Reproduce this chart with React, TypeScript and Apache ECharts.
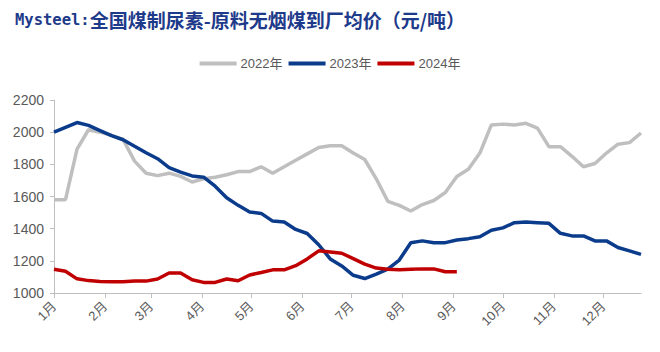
import React, { useEffect, useRef } from "react";
import * as echarts from "echarts";

const seriesNames = ["2022年", "2023年", "2024年"];
const monthLabels = ["1月", "2月", "3月", "4月", "5月", "6月", "7月", "8月", "9月", "10月", "11月", "12月"];
const monthStartDays = [0, 31, 59, 90, 120, 151, 181, 212, 243, 273, 304, 334];
const yTicks = [1000, 1200, 1400, 1600, 1800, 2000, 2200];

// weekly prices (元/吨), one point per week starting Jan 1
const price2022 = [
  1580, 1580, 1895, 2015, 2000, 1980, 1955, 1820, 1745, 1730,
  1745, 1725, 1690, 1710, 1720, 1735, 1755, 1755, 1785, 1745,
  1785, 1825, 1865, 1905, 1915, 1915, 1870, 1830, 1710, 1570,
  1545, 1510, 1550, 1575, 1625, 1725, 1770, 1870, 2045, 2050,
  2045, 2055, 2025, 1910, 1910, 1850, 1785, 1805, 1870, 1925,
  1935, 1995,
];
const price2023 = [
  2000, 2030, 2060, 2042, 2010, 1978, 1953, 1912, 1872, 1835,
  1780, 1752, 1728, 1720, 1664, 1592, 1545, 1503, 1495, 1447,
  1441, 1395, 1370, 1300, 1212, 1168, 1110, 1090, 1118, 1148,
  1205, 1313, 1324, 1313, 1313, 1330, 1338, 1350, 1390, 1405,
  1437, 1441, 1437, 1433, 1371, 1355, 1355, 1324, 1324, 1283,
  1262, 1240,
];
const price2024 = [
  1148, 1135, 1088, 1077, 1072, 1070, 1070, 1075, 1074, 1087,
  1124, 1124, 1082, 1066, 1066, 1087, 1076, 1112, 1127, 1144,
  1144, 1170, 1212, 1262, 1255, 1247, 1214, 1180, 1155, 1148,
  1144, 1148, 1150, 1150, 1132, 1132,
];

const colors = ["#BFBFBF", "#0B3C8C", "#C00000"];

export default function App() {
  const ref = useRef<HTMLDivElement>(null);

  useEffect(() => {
    if (!ref.current) return;
    const chart = echarts.init(ref.current, undefined, { renderer: "svg" });
    const toXY = (arr: number[]) => arr.map((v, i) => [i * 7, v]);
    const all = [price2022, price2023, price2024];
    chart.setOption({
      animation: false,
      backgroundColor: "#ffffff",
      title: {
        left: 10,
        top: 5,
        text: "{a|Mysteel:}{b|全国煤制尿素-原料无烟煤到厂均价（元/吨）}",
        textStyle: {
          rich: {
            a: {
              fontFamily: "'DejaVu Sans Mono', 'Liberation Mono', monospace",
              fontWeight: "bold",
              fontSize: 15.5,
              color: "#1E3A8A",
            },
            b: {
              fontFamily: "'Noto Sans CJK SC', sans-serif",
              fontWeight: "bold",
              fontSize: 19,
              color: "#1E3A8A",
            },
          },
        },
      },
      legend: {
        top: 52,
        left: "center",
        icon: "rect",
        itemWidth: 37,
        itemHeight: 4,
        itemGap: 6,
        textStyle: {
          color: "#595959",
          fontSize: 13,
          fontFamily: "'Liberation Sans', 'Noto Sans CJK SC', sans-serif",
          padding: [0, 0, 0, -1],
        },
        data: seriesNames,
      },
      grid: {
        left: 54,
        right: 19,
        top: 100,
        bottom: 59,
        containLabel: false,
      },
      xAxis: {
        type: "value",
        min: 0,
        max: 357,
        axisLine: { show: true, lineStyle: { color: "#BFBFBF", width: 1 } },
        axisTick: {
          show: true,
          length: 5,
          customValues: monthStartDays,
          lineStyle: { color: "#BFBFBF" },
        },
        axisLabel: {
          customValues: monthStartDays,
          rotate: 45,
          margin: 11,
          color: "#595959",
          fontSize: 13,
          fontFamily: "'Liberation Sans', 'Noto Sans CJK SC', sans-serif",
          formatter: (v: number) => {
            const idx = monthStartDays.indexOf(Math.round(v));
            return idx >= 0 ? monthLabels[idx] : "";
          },
        },
        splitLine: { show: false },
      },
      yAxis: {
        type: "value",
        min: yTicks[0],
        max: yTicks[yTicks.length - 1],
        interval: 200,
        axisLine: { show: true, lineStyle: { color: "#BFBFBF", width: 1 } },
        axisTick: { show: true, length: 4, lineStyle: { color: "#BFBFBF" } },
        axisLabel: {
          margin: 10,
          color: "#595959",
          fontSize: 14,
          fontFamily: "'Liberation Sans', sans-serif",
          formatter: (v: number) => String(v),
        },
        splitLine: { show: false },
      },
      series: seriesNames.map((name, k) => ({
        name,
        type: "line",
        data: toXY(all[k]),
        symbol: "none",
        lineStyle: { color: colors[k], width: 3.5 },
        itemStyle: { color: colors[k] },
        z: k === 0 ? 2 : k === 1 ? 3 : 4,
      })),
    });
    return () => chart.dispose();
  }, []);

  return (
    <div
      ref={ref}
      style={{ position: "fixed", left: 0, top: 0, width: 660, height: 352 }}
    />
  );
}
